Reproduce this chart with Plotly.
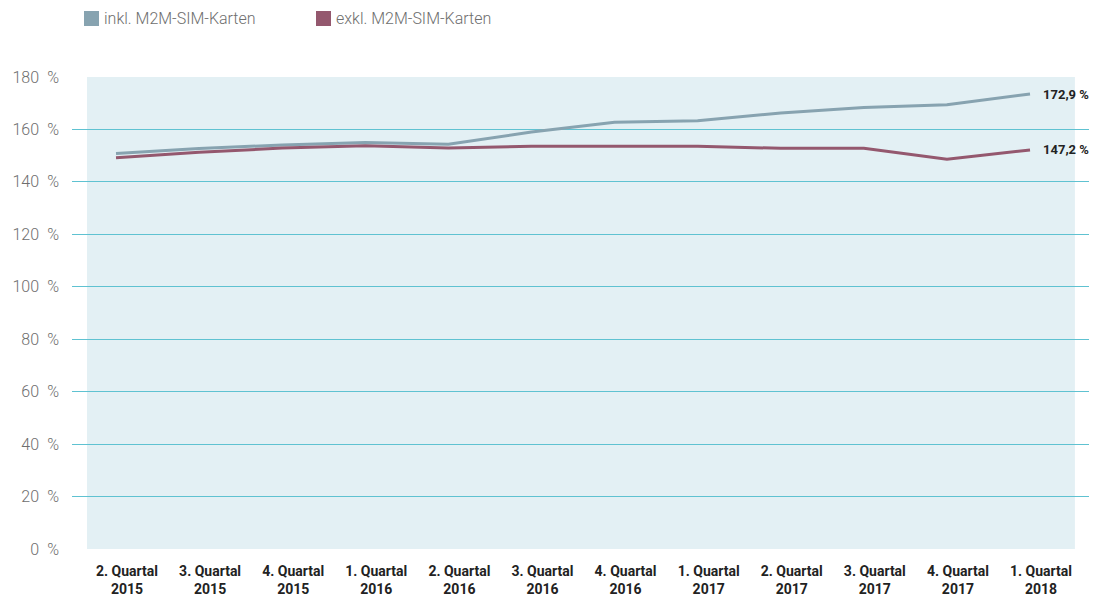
import plotly.graph_objects as go

quarters = ["2. Quartal<br>2015", "3. Quartal<br>2015", "4. Quartal<br>2015",
            "1. Quartal<br>2016", "2. Quartal<br>2016", "3. Quartal<br>2016",
            "4. Quartal<br>2016", "1. Quartal<br>2017", "2. Quartal<br>2017",
            "3. Quartal<br>2017", "4. Quartal<br>2017", "1. Quartal<br>2018"]
inkl = [150.8, 152.7, 154.1, 155.0, 154.4, 159.0, 162.7, 163.3, 166.3, 168.4, 169.4, 173.5]
exkl = [149.2, 151.3, 152.9, 153.8, 152.9, 153.6, 153.6, 153.6, 152.8, 152.8, 148.6, 152.2]
end_labels = ["172,9 %", "147,2 %"]
y_ticks = [0, 20, 40, 60, 80, 100, 120, 140, 160, 180]

c_inkl = "#87a3b0"
c_exkl = "#94586e"
grid = "#5fc2d1"
light_font = dict(family="Roboto", size=16, color="#6e6e6e", weight=300)
bold_font = dict(family="Roboto", size=14, color="#222222", weight=700)
label_font = dict(family="Roboto", size=13, color="#222222", weight=700)

xs = list(range(len(quarters)))

fig = go.Figure()
fig.add_trace(go.Scatter(x=xs, y=inkl, mode="lines", line=dict(color=c_inkl, width=3),
                         name="inkl. M2M-SIM-Karten", showlegend=False))
fig.add_trace(go.Scatter(x=xs, y=exkl, mode="lines", line=dict(color=c_exkl, width=3),
                         name="exkl. M2M-SIM-Karten", showlegend=False))

# shaded plot background
fig.add_shape(type="rect", xref="x", yref="y", x0=-0.349, x1=11.54, y0=0, y1=180,
              fillcolor="#e3f0f4", line_width=0, layer="below")

# end labels
for val, txt in zip([inkl[-1], exkl[-1]], end_labels):
    fig.add_annotation(x=11, y=val, text=txt, showarrow=False, xanchor="left",
                       xshift=11, font=label_font)

# legend (squares + text)
legend = [("inkl. M2M-SIM-Karten", c_inkl, 84), ("exkl. M2M-SIM-Karten", c_exkl, 316)]
for name, col, px in legend:
    fig.add_shape(type="rect", xref="paper", yref="paper",
                  x0=(px - 72) / 1025, x1=(px + 15 - 72) / 1025,
                  y0=(549 - 26) / 472, y1=(549 - 11) / 472,
                  fillcolor=col, line_width=0)
    fig.add_annotation(xref="paper", yref="paper", x=(px + 18 - 72) / 1025,
                       y=(549 - 18.5) / 472, text=name, showarrow=False,
                       xanchor="left", yanchor="middle", font=light_font)

fig.update_layout(
    width=1089, height=588,
    margin=dict(l=64, r=0, t=69, b=47),
    paper_bgcolor="white", plot_bgcolor="white",
    showlegend=False,
    xaxis=dict(range=[-0.5296, 11.806], tickvals=xs, ticktext=quarters,
               showgrid=False, zeroline=False, showline=False, ticks="",
               tickfont=bold_font, ticklabelshift=11, ticklabelstandoff=12),
    yaxis=dict(range=[0, 180], tickvals=y_ticks,
               ticktext=[f"{v}\u2002%" for v in y_ticks],
               showgrid=True, gridcolor=grid, gridwidth=1, zeroline=False,
               showline=False, ticks="", tickfont=light_font, ticklabelstandoff=12),
)

fig.write_html("out.html")
